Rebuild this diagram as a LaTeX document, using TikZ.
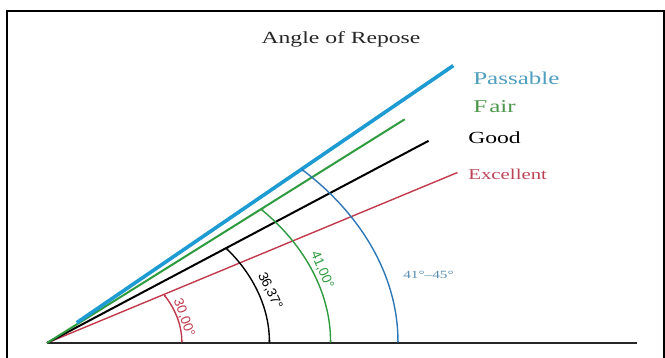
\documentclass[tikz,border=0pt]{standalone}
\usepackage{fontspec}
\setmainfont{Liberation Serif}
\newfontfamily\lsans{Liberation Sans}
\usetikzlibrary{arrows.meta}
\definecolor{passblue}{HTML}{1E9BD2}
\definecolor{arcblue}{HTML}{2F78B8}
\definecolor{fairgreen}{HTML}{2E9B3E}
\definecolor{exred}{HTML}{C23A4E}
\definecolor{passtxt}{HTML}{4E9EBE}
\definecolor{fairtxt}{HTML}{4E984E}
\definecolor{extxt}{HTML}{BC4458}
\definecolor{rangetxt}{HTML}{5A90B4}
\tikzset{
  lbl/.style={inner sep=0pt, anchor=west, xscale=1.39},
  anglbl/.style={inner sep=0pt, font=\lsans\fontsize{13.5}{13.5}\selectfont},
  anglearc/.style={line width=1.4pt, {Stealth[length=2.5pt,width=2.5pt]}-{Stealth[length=2.5pt,width=2.5pt]}},
}
\begin{document}
\begin{tikzpicture}[x=1pt,y=-1pt]
\useasboundingbox (0,0) rectangle (665,358);
\fill[white] (0,0) rectangle (665,358);
\draw[line width=2pt] (7,358) -- (7,11) -- (663.5,11) -- (663.5,358);
\node[lbl, anchor=center, font=\fontsize{17}{17}\selectfont, text=black!85] (title) at (341,39) {Angle of Repose};
\coordinate (O) at (47,343);
\coordinate (E) at (637,343);
\draw[line width=2pt, black!85] (O) -- (E);
\begin{scope}[shift={(47,343)}, x=1.39pt, y=1pt]
  \draw[exred, line width=1.4pt] (0,0) -- (30:341) coordinate (exend);
  \draw[black, line width=2pt] (0,0) -- (36.37:341) coordinate (goodend);
  \draw[fairgreen, line width=2pt] (0,0) -- (41:341) coordinate (fairend);
  \draw[passblue, line width=3.6pt] (43.5:29.5) -- (43.5:403) coordinate (passend);
  \draw[anglearc, exred] (30:97) arc[start angle=30, end angle=0, radius=97];
  \draw[anglearc, black] (36.37:160) arc[start angle=36.37, end angle=0, radius=160];
  \draw[anglearc, fairgreen] (41:204) arc[start angle=41, end angle=0, radius=204];
  \draw[anglearc, arcblue] (43.5:252.5) arc[start angle=43.5, end angle=0, radius=252.5];
\end{scope}
\node[lbl, font=\fontsize{18}{18}\selectfont, text=passtxt] (pass) at (473,78) {Passable};
\node[lbl, font=\fontsize{18}{18}\selectfont, text=fairtxt] (fair) at (473,107) {F\kern1.5pt air};
\node[lbl, font=\fontsize{17}{17}\selectfont, text=black] (good) at (468,138) {Good};
\node[lbl, font=\fontsize{15}{15}\selectfont, text=extxt] (exc) at (468,174) {Excellent};
\node[anglbl, text=exred, rotate=-70] (a30) at (184,318) {30,00°};
\node[anglbl, text=black, rotate=-64] (a36) at (270,291) {36,37°};
\node[anglbl, text=fairgreen, rotate=-67] (a41) at (322,270) {41,00°};
\node[lbl, font=\fontsize{11}{11}\selectfont, text=rangetxt] (a4145) at (403,275) {41°–45°};
\end{tikzpicture}
\end{document}
